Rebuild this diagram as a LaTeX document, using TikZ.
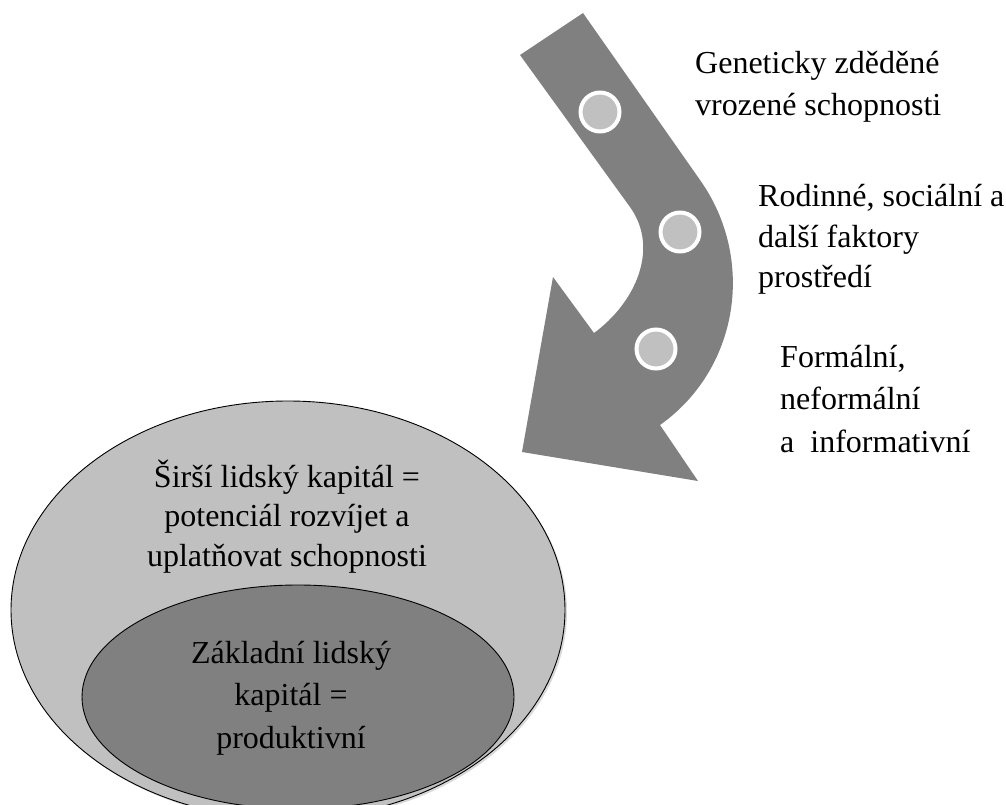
\documentclass[tikz,border=0pt]{standalone}
\usepackage{fontspec}
\setmainfont{Liberation Serif}
\definecolor{lightfill}{RGB}{192,192,192}
\definecolor{darkfill}{RGB}{128,128,128}
\newcommand\centerblock[1]{\vtop{\halign{\hfil##\hfil\cr#1\crcr}}}
\newcommand\leftblock[1]{\vtop{\halign{##\hfil\cr#1\crcr}}}
\tikzset{
  blocktext/.style={inner sep=0pt, text=black},
  dotmark/.style={circle, fill=lightfill, draw=white, line width=4pt, minimum size=39pt, inner sep=0pt},
  ringshape/.style={draw=black, line width=0.9pt}
}
\begin{document}
\begin{tikzpicture}[x=1pt,y=-1pt]
\useasboundingbox (0,0) rectangle (1006,805);
\begin{scope}
\clip (0,0) rectangle (1006,805);
% outer and inner ellipses
\fill[black!25, opacity=0.6] (290,612) ellipse [x radius=277, y radius=209];
\filldraw[fill=lightfill, ringshape] (288,610) ellipse [x radius=277, y radius=209];
\filldraw[fill=darkfill, ringshape] (298,697) ellipse [x radius=216, y radius=112];
\end{scope}
% curved arrow
\fill[darkfill] (520,55) -- (583,13) -- (700,180)
  .. controls (756,259) and (739,369) .. (660,425)
  -- (698,481) -- (522,452) -- (553,277) -- (594,333)
  .. controls (635,303) and (660,249) .. (630,207) -- cycle;
% markers on the arrow
\node[dotmark] (d1) at (600,112) {};
\node[dotmark] (d2) at (680,232) {};
\node[dotmark] (d3) at (656,349) {};
% texts
\node[blocktext, anchor=base] (outer) at (287,487)
  {\fontsize{32}{39.5}\selectfont\centerblock{Širší lidský kapitál =\cr potenciál rozvíjet a\cr uplatňovat schopnosti}};
\node[blocktext, anchor=base] (inner) at (291,663)
  {\fontsize{32}{42.5}\selectfont\centerblock{Základní lidský\cr kapitál =\cr produktivní}};
\node[blocktext, anchor=base west] (t1) at (695,74)
  {\fontsize{32}{42}\selectfont\leftblock{Geneticky zděděné\cr vrozené schopnosti}};
\node[blocktext, anchor=base west] (t2) at (758,207)
  {\fontsize{32}{40.5}\selectfont\leftblock{Rodinné, sociální a\cr další faktory\cr prostředí}};
\node[blocktext, anchor=base west] (t3) at (780,367)
  {\fontsize{32}{42.5}\selectfont\leftblock{Formální,\cr neformální\cr a\ \ informativní}};
\end{tikzpicture}
\end{document}
